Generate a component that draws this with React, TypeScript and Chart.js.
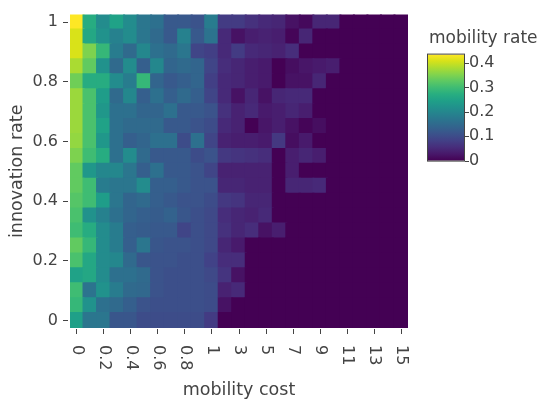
import React, { useEffect, useRef } from 'react';
import { Chart, registerables } from 'chart.js';

Chart.register(...registerables);

// ---------- data ----------
const xCategories = ['0', '0.1', '0.2', '0.3', '0.4', '0.5', '0.6', '0.7', '0.8', '0.9', '1', '2', '3', '4', '5', '6', '7', '8', '9', '10', '11', '12', '13', '14', '15'];
const xTickLabels = ['0', '0.2', '0.4', '0.6', '0.8', '1', '3', '5', '7', '9', '11', '13', '15'];
const yValues = [0, 0.05, 0.1, 0.15, 0.2, 0.25, 0.3, 0.35, 0.4, 0.45, 0.5, 0.55, 0.6, 0.65, 0.7, 0.75, 0.8, 0.85, 0.9, 0.95, 1];
const yTickValues = [0, 0.2, 0.4, 0.6, 0.8, 1];
const colorbarTicks = [0, 0.1, 0.2, 0.3, 0.4];
const zMin = 0;
const zMax = 0.435;

// mobility rate, one row per innovation rate (columns follow xCategories)
const r000 = [0.245, 0.17, 0.17, 0.115, 0.115, 0.1, 0.1, 0.1, 0.1, 0.1, 0.075, 0, 0, 0, 0, 0, 0, 0, 0, 0, 0, 0, 0, 0, 0];
const r005 = [0.29, 0.22, 0.16, 0.15, 0.13, 0.11, 0.105, 0.105, 0.105, 0.105, 0.1, 0.02, 0, 0, 0, 0, 0, 0, 0, 0, 0, 0, 0, 0, 0];
const r010 = [0.3, 0.165, 0.22, 0.18, 0.15, 0.145, 0.11, 0.105, 0.105, 0.105, 0.1, 0.04, 0.05, 0, 0, 0, 0, 0, 0, 0, 0, 0, 0, 0, 0];
const r015 = [0.25, 0.26, 0.21, 0.16, 0.16, 0.15, 0.11, 0.105, 0.105, 0.105, 0.095, 0.065, 0.02, 0, 0, 0, 0, 0, 0, 0, 0, 0, 0, 0, 0];
const r020 = [0.31, 0.26, 0.21, 0.2, 0.15, 0.115, 0.11, 0.11, 0.105, 0.105, 0.085, 0.055, 0.055, 0, 0, 0, 0, 0, 0, 0, 0, 0, 0, 0, 0];
const r025 = [0.33, 0.29, 0.21, 0.18, 0.13, 0.17, 0.115, 0.11, 0.11, 0.105, 0.095, 0.045, 0.03, 0, 0, 0, 0, 0, 0, 0, 0, 0, 0, 0, 0];
const r030 = [0.3, 0.27, 0.21, 0.18, 0.13, 0.125, 0.12, 0.12, 0.09, 0.105, 0.095, 0.06, 0.045, 0.055, 0.02, 0.035, 0, 0, 0, 0, 0, 0, 0, 0, 0];
const r035 = [0.31, 0.22, 0.19, 0.16, 0.14, 0.13, 0.125, 0.135, 0.115, 0.105, 0.095, 0.055, 0.045, 0.04, 0.05, 0, 0, 0, 0, 0, 0, 0, 0, 0, 0];
const r040 = [0.32, 0.3, 0.24, 0.17, 0.14, 0.15, 0.13, 0.12, 0.11, 0.11, 0.1, 0.07, 0.065, 0.045, 0.045, 0, 0, 0, 0, 0, 0, 0, 0, 0, 0];
const r045 = [0.33, 0.3, 0.18, 0.17, 0.17, 0.21, 0.13, 0.13, 0.12, 0.11, 0.11, 0.045, 0.045, 0.04, 0.04, 0, 0.045, 0.045, 0.05, 0, 0, 0, 0, 0, 0];
const r050 = [0.33, 0.23, 0.2, 0.2, 0.17, 0.13, 0.16, 0.12, 0.12, 0.11, 0.09, 0.04, 0.04, 0.04, 0.04, 0, 0.035, 0, 0, 0, 0, 0, 0, 0, 0];
const r055 = [0.35, 0.3, 0.27, 0.16, 0.21, 0.15, 0.12, 0.12, 0.12, 0.1, 0.11, 0.07, 0.065, 0.06, 0.055, 0, 0.035, 0.045, 0.035, 0, 0, 0, 0, 0, 0];
const r060 = [0.365, 0.31, 0.23, 0.16, 0.13, 0.14, 0.16, 0.16, 0.1, 0.16, 0.09, 0.04, 0.035, 0.035, 0.03, 0.07, 0.015, 0.03, 0, 0, 0, 0, 0, 0, 0];
const r065 = [0.37, 0.31, 0.25, 0.16, 0.15, 0.15, 0.15, 0.12, 0.12, 0.11, 0.1, 0.05, 0.04, 0, 0.025, 0.035, 0.02, 0.005, 0.015, 0, 0, 0, 0, 0, 0];
const r070 = [0.37, 0.31, 0.23, 0.16, 0.16, 0.14, 0.14, 0.16, 0.12, 0.12, 0.11, 0.06, 0.04, 0.05, 0.03, 0.035, 0.045, 0.035, 0, 0, 0, 0, 0, 0, 0];
const r075 = [0.37, 0.31, 0.24, 0.15, 0.2, 0.13, 0.16, 0.13, 0.15, 0.13, 0.09, 0.05, 0.02, 0.045, 0.02, 0.045, 0.05, 0.05, 0, 0, 0, 0, 0, 0, 0];
const r080 = [0.34, 0.27, 0.27, 0.21, 0.18, 0.29, 0.14, 0.12, 0.13, 0.14, 0.08, 0.05, 0.045, 0.035, 0.03, 0, 0.02, 0.02, 0.045, 0, 0, 0, 0, 0, 0];
const r085 = [0.38, 0.33, 0.22, 0.15, 0.21, 0.13, 0.2, 0.14, 0.15, 0.14, 0.09, 0.055, 0.045, 0.035, 0.03, 0, 0.015, 0.025, 0.03, 0.035, 0, 0, 0, 0, 0];
const r090 = [0.41, 0.35, 0.29, 0.18, 0.15, 0.2, 0.16, 0.15, 0.17, 0.09, 0.08, 0.05, 0.075, 0.05, 0.045, 0.04, 0.055, 0, 0, 0, 0, 0, 0, 0, 0];
const r095 = [0.41, 0.26, 0.22, 0.19, 0.21, 0.17, 0.15, 0.12, 0.19, 0.12, 0.165, 0.05, 0.02, 0.035, 0.04, 0.035, 0.005, 0.045, 0, 0, 0, 0, 0, 0, 0];
const r100 = [0.435, 0.27, 0.21, 0.25, 0.21, 0.17, 0.16, 0.12, 0.12, 0.11, 0.18, 0.075, 0.075, 0.06, 0.05, 0.045, 0.02, 0.01, 0.045, 0.045, 0, 0, 0, 0, 0];

const zRows = [r000, r005, r010, r015, r020, r025, r030, r035, r040, r045, r050, r055, r060, r065, r070, r075, r080, r085, r090, r095, r100];

// ---------- style ----------
const FONT = "'DejaVu Sans', Verdana, sans-serif";
const TEXT = '#444';
const TICK_SIZE = 16;
const TITLE_SIZE = 17.5;
const CB_TITLE_SIZE = 17;

const viridis: [number, string][] = [
  [0, '#440154'], [0.0627, '#48186a'], [0.1255, '#472d7b'], [0.1882, '#424086'],
  [0.251, '#3b528b'], [0.3137, '#33638d'], [0.3765, '#2c728e'], [0.4392, '#26828e'],
  [0.502, '#21918c'], [0.5647, '#1fa088'], [0.6275, '#28ae80'], [0.6902, '#3fbc73'],
  [0.7529, '#5ec962'], [0.8157, '#84d44b'], [0.8784, '#addc30'], [0.9412, '#d8e219'],
  [1, '#fde725'],
];

function hexToRgb(h: string) {
  return [parseInt(h.slice(1, 3), 16), parseInt(h.slice(3, 5), 16), parseInt(h.slice(5, 7), 16)];
}

function colorFor(v: number) {
  let t = (v - zMin) / (zMax - zMin);
  t = Math.max(0, Math.min(1, t));
  for (let i = 1; i < viridis.length; i++) {
    if (t <= viridis[i][0]) {
      const [t0, c0] = viridis[i - 1];
      const [t1, c1] = viridis[i];
      const f = (t - t0) / (t1 - t0);
      const a = hexToRgb(c0);
      const b = hexToRgb(c1);
      const c = a.map((x, k) => Math.round(x + (b[k] - x) * f));
      return `rgb(${c[0]},${c[1]},${c[2]})`;
    }
  }
  return viridis[viridis.length - 1][1];
}

const extrasPlugin = {
  id: 'heatExtras',
  afterDraw(chart: any) {
    const ctx = chart.ctx as CanvasRenderingContext2D;
    const xs = chart.scales.x;
    const area = chart.chartArea;
    ctx.save();
    // rotated x tick labels
    ctx.fillStyle = TEXT;
    ctx.font = `${TICK_SIZE}px ${FONT}`;
    ctx.textAlign = 'left';
    ctx.textBaseline = 'middle';
    xs.ticks.forEach((t: any) => {
      const x = xs.getPixelForValue(t.value);
      ctx.save();
      ctx.translate(x, xs.top + 17);
      ctx.rotate(Math.PI / 2);
      ctx.fillText(xCategories[t.value], 0, 0);
      ctx.restore();
    });

    // colorbar
    const left = area.right + 20;
    const top = area.top + 40;
    const w = 36;
    const h = 106;
    const bottom = top + h;
    const grad = ctx.createLinearGradient(0, bottom, 0, top);
    viridis.forEach(([s, c]) => grad.addColorStop(s, c));
    ctx.fillStyle = grad;
    ctx.fillRect(left, top, w, h);
    ctx.strokeStyle = TEXT;
    ctx.lineWidth = 1;
    ctx.strokeRect(left - 0.5, top - 0.5, w + 1, h + 1);

    ctx.fillStyle = TEXT;
    ctx.font = `${TICK_SIZE}px ${FONT}`;
    ctx.textAlign = 'left';
    ctx.textBaseline = 'middle';
    colorbarTicks.forEach((v) => {
      const y = bottom - ((v - zMin) / (zMax - zMin)) * h;
      ctx.beginPath();
      ctx.moveTo(left + w + 1, Math.round(y) + 0.5);
      ctx.lineTo(left + w + 5, Math.round(y) + 0.5);
      ctx.stroke();
      ctx.fillText(String(v), left + w + 5, y);
    });

    ctx.font = `${CB_TITLE_SIZE}px ${FONT}`;
    ctx.textAlign = 'left';
    ctx.fillText('mobility rate', left + 1, top - 16);
    ctx.restore();
  },
};

export default function App() {
  const ref = useRef<HTMLCanvasElement | null>(null);

  useEffect(() => {
    document.body.style.margin = '0';
    const canvas = ref.current;
    if (!canvas) return;
    const half = (yValues[1] - yValues[0]) / 2;
    const datasets = yValues.map((yv, r) => ({
      label: String(yv),
      data: xCategories.map(() => [yv - half, yv + half]),
      backgroundColor: zRows[r].map(colorFor),
      borderWidth: 0,
      grouped: false,
      barPercentage: 1,
      categoryPercentage: 1,
      inflateAmount: 1,
    }));

    const chart = new Chart(canvas, {
      type: 'bar',
      data: { labels: xCategories, datasets: datasets as any },
      plugins: [extrasPlugin],
      options: {
        animation: false,
        responsive: false,
        maintainAspectRatio: false,
        layout: { padding: { left: 0, top: 10, right: 132, bottom: 0 } },
        plugins: { legend: { display: false }, tooltip: { enabled: false } },
        scales: {
          x: {
            type: 'category',
            offset: true,
            border: { display: false },
            grid: {
              display: true,
              drawOnChartArea: false,
              drawTicks: true,
              offset: false,
              tickLength: 7,
              tickColor: TEXT,
              tickBorderDash: [5, 10],
              tickBorderDashOffset: 14,
            },
            ticks: { display: false, autoSkip: false },
            afterBuildTicks: (s: any) => {
              s.ticks = s.ticks.filter((t: any) => xTickLabels.includes(xCategories[t.value]));
            },
            afterFit: (s: any) => {
              s.height = 72;
            },
            title: {
              display: true,
              text: 'mobility cost',
              color: TEXT,
              font: { family: FONT, size: TITLE_SIZE, lineHeight: 1 },
              padding: { top: 0, bottom: 1 },
            },
          },
          y: {
            type: 'linear',
            min: yValues[0] - half,
            max: yValues[yValues.length - 1] + half,
            border: { display: false },
            grid: {
              display: true,
              drawOnChartArea: false,
              drawTicks: true,
              tickLength: 7,
              tickColor: TEXT,
              tickBorderDash: [5, 10],
            },
            afterBuildTicks: (s: any) => {
              s.ticks = yTickValues.map((v) => ({ value: v }));
            },
            ticks: {
              color: TEXT,
              padding: 5,
              font: { family: FONT, size: TICK_SIZE },
              callback: (v: any) => String(v),
            },
            afterFit: (s: any) => {
              s.width = 70;
            },
            title: {
              display: true,
              text: 'innovation rate',
              color: TEXT,
              font: { family: FONT, size: TITLE_SIZE, lineHeight: 1 },
              padding: { top: 9, bottom: 0 },
            },
          },
        },
      } as any,
    });
    return () => chart.destroy();
  }, []);

  return (
    <div style={{ width: 540, height: 400 }}>
      <canvas ref={ref} width={540} height={400} style={{ display: 'block' }} />
    </div>
  );
}
